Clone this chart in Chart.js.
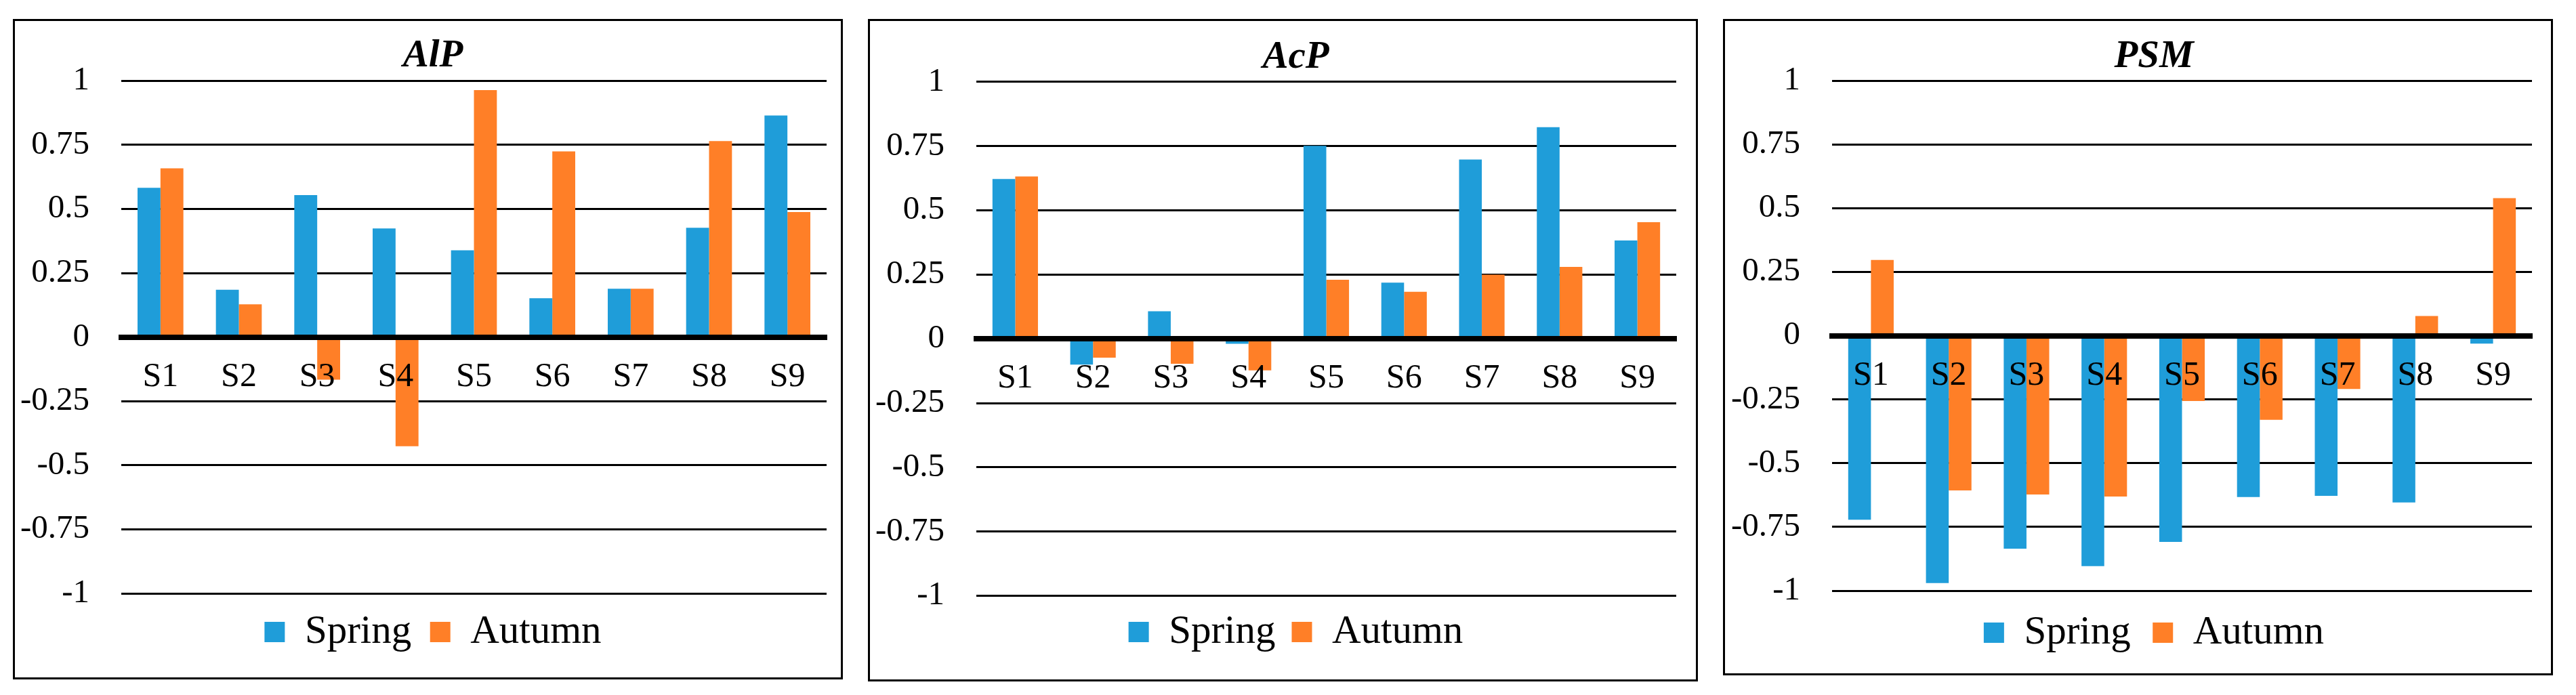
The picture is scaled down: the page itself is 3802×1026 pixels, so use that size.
<!DOCTYPE html>
<html><head><meta charset="utf-8">
<script src="https://cdn.jsdelivr.net/npm/chart.js@4/dist/chart.umd.min.js"></script>
<style>
html,body{margin:0;padding:0;background:#fff;}
body{width:3802px;height:1026px;position:relative;overflow:hidden;}
.panel{position:absolute;box-sizing:border-box;border:3px solid #000;background:#fff;}
.panel canvas{position:absolute;left:0;top:0;}
</style></head><body>
<div class="panel" style="left:19px;top:28px;width:1225px;height:975px"><canvas id="c1" width="1219" height="969"></canvas></div>
<div class="panel" style="left:1281px;top:28px;width:1225px;height:978px"><canvas id="c2" width="1219" height="972"></canvas></div>
<div class="panel" style="left:2543px;top:28px;width:1225px;height:969px"><canvas id="c3" width="1219" height="963"></canvas></div>
<script>
// ---- data ----
const categories = ['S1','S2','S3','S4','S5','S6','S7','S8','S9'];
const seriesNames = ['Spring','Autumn'];
const panelTitles = ['AlP','AcP','PSM'];
const alpSpring = [0.583, 0.185, 0.554, 0.424, 0.339, 0.152, 0.189, 0.427, 0.865];
const alpAutumn = [0.659, 0.128, -0.166, -0.426, 0.964, 0.725, 0.189, 0.765, 0.488];
const acpSpring = [0.622, -0.100, 0.107, -0.019, 0.751, 0.219, 0.698, 0.824, 0.383];
const acpAutumn = [0.632, -0.073, -0.097, -0.123, 0.230, 0.183, 0.250, 0.280, 0.454];
const psmSpring = [-0.722, -0.970, -0.835, -0.904, -0.809, -0.633, -0.628, -0.654, -0.031];
const psmAutumn = [0.297, -0.607, -0.623, -0.631, -0.256, -0.330, -0.209, 0.077, 0.539];
const yTicks = [-1, -0.75, -0.5, -0.25, 0, 0.25, 0.5, 0.75, 1];
const yTickLabels = ['-1', '-0.75', '-0.5', '-0.25', '0', '0.25', '0.5', '0.75', '1'];

// ---- styling / layout ----
const colors = ['#1f9dd9', '#ff7f27'];
const FONT = "'Liberation Serif', 'Times New Roman', serif";
const layouts = [
  {id:'c1', padL:5, padR:21, padB:27.5, titleTop:18, titleBot:2,   yw:152, legPad:27.5, dx:15.5},
  {id:'c2', padL:5, padR:29, padB:30.5, titleTop:20, titleBot:1.5, yw:152, legPad:24,   dx:31},
  {id:'c3', padL:5, padR:28, padB:20.5, titleTop:19, titleBot:0.6, yw:153, legPad:32.5, dx:35}
];
const panelData = [[alpSpring, alpAutumn], [acpSpring, acpAutumn], [psmSpring, psmAutumn]];

// shifts the title and legend boxes horizontally (they are centred in the panel like the original)
const shiftBoxes = {
  id: 'shiftBoxes',
  afterLayout(chart, args, opts) {
    const dx = opts.dx || 0;
    [chart.titleBlock, chart.legend].forEach(b => { if (b) { b.left += dx; b.right += dx; } });
  }
};

Chart.defaults.font.family = FONT;
Chart.defaults.color = '#000';

layouts.forEach((L, i) => {
  new Chart(document.getElementById(L.id), {
    type: 'bar',
    plugins: [shiftBoxes],
    data: {
      labels: categories,
      datasets: seriesNames.map((name, k) => ({
        label: name,
        data: panelData[i][k],
        backgroundColor: colors[k],
        borderWidth: 0,
        barPercentage: 1,
        categoryPercentage: 0.585
      }))
    },
    options: {
      responsive: false,
      animation: false,
      devicePixelRatio: 1,
      layout: {padding: {left: L.padL, right: L.padR, top: 0, bottom: L.padB}},
      plugins: {
        shiftBoxes: {dx: L.dx},
        tooltip: {enabled: false},
        title: {
          display: true,
          text: panelTitles[i],
          color: '#000',
          font: {family: FONT, size: 57, weight: 'bold', style: 'italic', lineHeight: 1.2},
          padding: {top: L.titleTop, bottom: L.titleBot}
        },
        legend: {
          display: true,
          position: 'bottom',
          labels: {
            color: '#000',
            font: {family: FONT, size: 59},
            boxWidth: 30,
            boxHeight: 30,
            padding: L.legPad
          }
        }
      },
      scales: {
        x: {
          position: {y: 0},
          offset: true,
          grid: {display: false, drawTicks: false},
          border: {display: true, color: '#000', width: 8, z: 1},
          ticks: {color: '#000', font: {family: FONT, size: 50}, padding: 29, z: 1, maxRotation: 0, autoSkip: false}
        },
        y: {
          min: -1, max: 1,
          afterBuildTicks: (scale) => { scale.ticks = yTicks.map(v => ({value: v})); },
          afterFit: (scale) => { scale.width = L.yw; },
          grid: {color: '#000', lineWidth: 3, drawTicks: false},
          border: {display: false},
          ticks: {
            color: '#000',
            font: {family: FONT, size: 49},
            padding: 47,
            callback: (v) => yTickLabels[yTicks.indexOf(v)]
          }
        }
      }
    }
  });
});
</script>
</body></html>
